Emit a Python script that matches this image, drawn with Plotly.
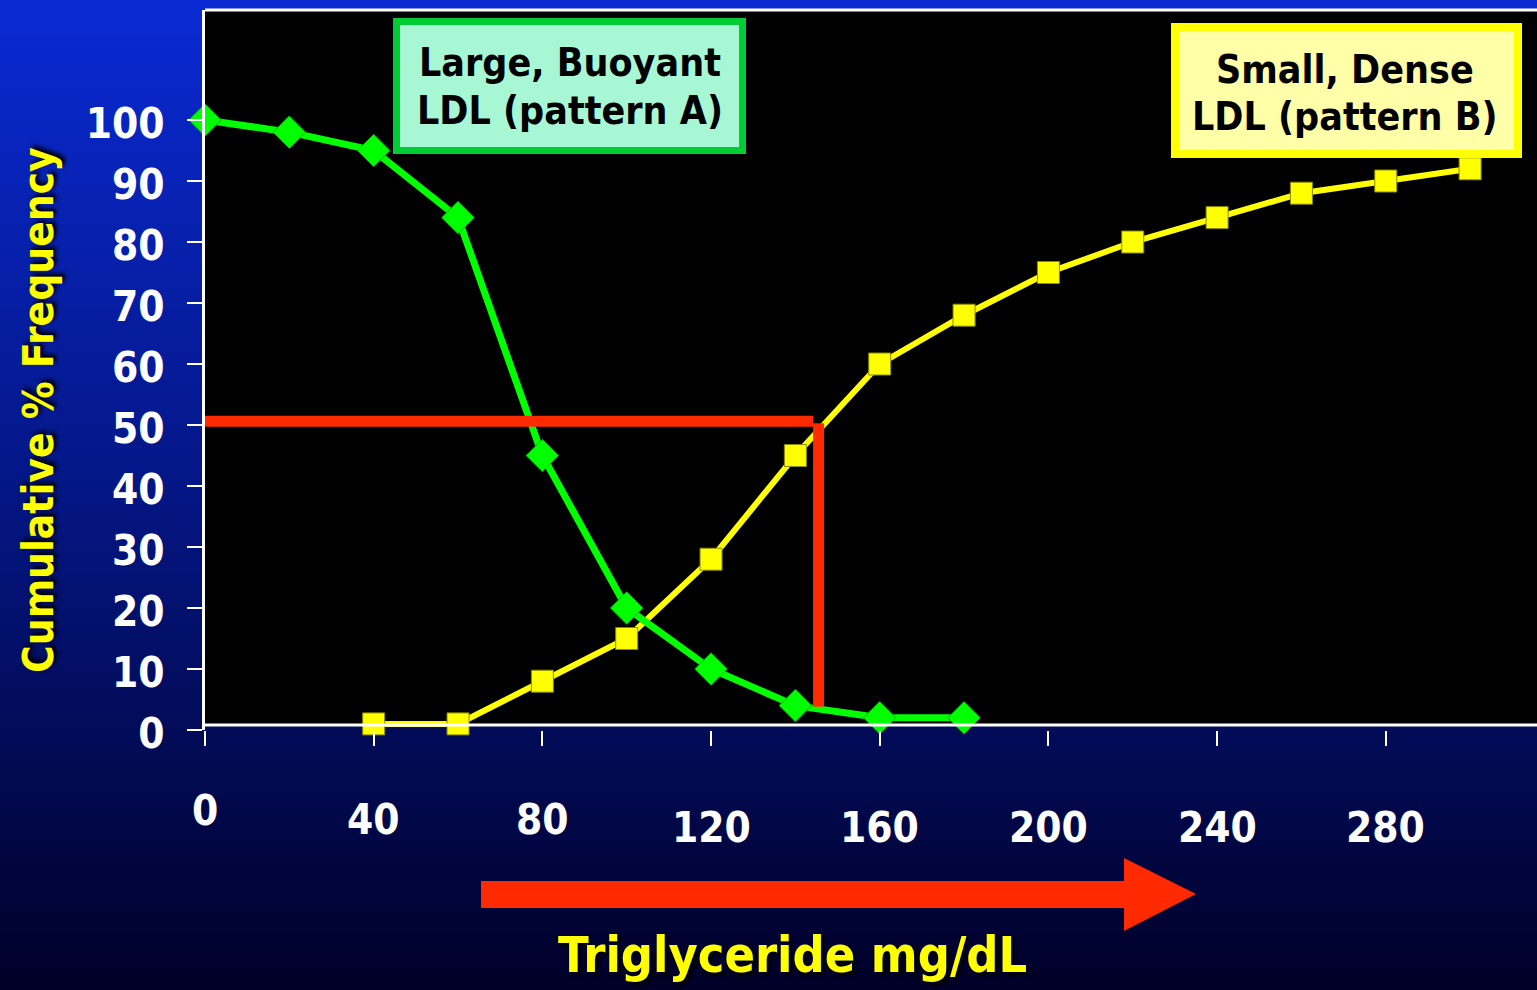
import plotly.graph_objects as go

# ---- data -------------------------------------------------------------
tg_pattern_a = [0, 20, 40, 60, 80, 100, 120, 140, 160, 180]
pct_pattern_a = [100, 98, 95, 84, 45, 20, 10, 4, 2, 2]

tg_pattern_b = [40, 60, 80, 100, 120, 140, 160, 180, 200, 220, 240, 260, 280, 300]
pct_pattern_b = [1, 1, 8, 15, 28, 45, 60, 68, 75, 80, 84, 88, 90, 92]

x_ticks = [0, 40, 80, 120, 160, 200, 240, 280]
x_tick_labels = ["0", "40", "80", "120", "160", "200", "240", "280"]
y_ticks = [0, 10, 20, 30, 40, 50, 60, 70, 80, 90, 100]
y_tick_labels = [str(v) for v in y_ticks]

cutoff_tg = 145.5
cutoff_pct = 50.6

# ---- geometry / style -------------------------------------------------
W, H = 1537, 990
L, T, B = 205, 10, 260
PW, PH = W - L, H - T - B
X_MAX = PW / 4.217
Y_MAX = PH / 6.1
AXIS_Y = 5 / 6.1          # baseline drawn a few px above the zero tick

FONT = "DejaVu Sans Condensed, DejaVu Sans, sans-serif"
RED = "#ff2a00"
GREEN = "#00ff00"
YELLOW = "#ffff00"

# x tick labels are staggered downwards
x_label_drop = [0, 9, 9, 17, 17, 17, 17, 17]


def fx(px):
    return (px - L) / PW


def fy(py):
    return (T + PH - py) / PH


def font(size, color, family=FONT, shadow="none"):
    return dict(family=family, size=size, color=color, weight="bold",
                shadow=shadow)


fig = go.Figure()

fig.add_trace(go.Scatter(
    x=tg_pattern_b, y=pct_pattern_b, mode="lines+markers",
    line=dict(color=YELLOW, width=6),
    marker=dict(symbol="square", size=22, color=YELLOW,
                line=dict(color="#8a8a00", width=1)),
    showlegend=False, cliponaxis=False,
))
fig.add_trace(go.Scatter(
    x=tg_pattern_a, y=pct_pattern_a, mode="lines+markers",
    line=dict(color=GREEN, width=7),
    marker=dict(symbol="diamond", size=25, color=GREEN,
                line=dict(color="#00b000", width=1)),
    showlegend=False, cliponaxis=False,
))

shapes = []

# background gradient (blue at top fading to deep navy)
stops = [(0.0, (10, 42, 212)), (0.5, (4, 22, 132)), (1.0, (0, 0, 40))]


def grad(t):
    for (t0, c0), (t1, c1) in zip(stops[:-1], stops[1:]):
        if t <= t1:
            u = (t - t0) / (t1 - t0)
            return "rgb(%d,%d,%d)" % tuple(round(a + (b - a) * u) for a, b in zip(c0, c1))
    return "rgb(%d,%d,%d)" % stops[-1][1]


step = 5
for y0 in range(0, H, step):
    shapes.append(dict(
        type="rect", xref="paper", yref="paper", layer="below",
        x0=fx(0), x1=fx(W), y0=fy(y0 - 1), y1=fy(y0 + step + 1),
        fillcolor=grad((y0 + step / 2) / H), line=dict(width=0),
    ))

# black plotting field
shapes.append(dict(
    type="rect", xref="x", yref="y", layer="below",
    x0=0, x1=X_MAX, y0=AXIS_Y, y1=Y_MAX,
    fillcolor="black", line=dict(width=0),
))
# frame lines
shapes.append(dict(type="line", xref="x", yref="y", x0=0, x1=X_MAX,
                   y0=AXIS_Y, y1=AXIS_Y, line=dict(color="white", width=3)))
shapes.append(dict(type="line", xref="paper", yref="paper", x0=0, x1=1,
                   y0=1, y1=1, line=dict(color="white", width=3)))

# 50 % cut-off guide
shapes.append(dict(type="line", xref="x", yref="y", x0=0, x1=cutoff_tg - 1.3,
                   y0=cutoff_pct, y1=cutoff_pct, line=dict(color=RED, width=11)))
shapes.append(dict(type="line", xref="x", yref="y", x0=cutoff_tg, x1=cutoff_tg,
                   y0=cutoff_pct - 0.3, y1=3.8, line=dict(color=RED, width=11)))

# red arrow under the axis
arrow_pts = [(481, 881), (1124, 881), (1124, 858), (1196, 894),
             (1124, 931), (1124, 908), (481, 908)]
path = "M " + " L ".join("%.5f,%.5f" % (fx(a), fy(b)) for a, b in arrow_pts) + " Z"
shapes.append(dict(type="path", xref="paper", yref="paper", path=path,
                   fillcolor=RED, line=dict(width=0)))

# label boxes
shapes.append(dict(type="rect", xref="paper", yref="paper",
                   x0=fx(396.5), x1=fx(742.5), y0=fy(150.5), y1=fy(21.5),
                   fillcolor="#a8f7d4", line=dict(color="#00cc33", width=7)))
shapes.append(dict(type="rect", xref="paper", yref="paper",
                   x0=fx(1175), x1=fx(1518), y0=fy(154), y1=fy(27),
                   fillcolor="#ffffa8", line=dict(color=YELLOW, width=8)))

annotations = []


def text(s, x, y, fnt, angle=0):
    annotations.append(dict(
        text=s, xref="paper", yref="paper", x=fx(x), y=fy(y),
        xanchor="center", yanchor="middle", showarrow=False, textangle=angle,
        font=fnt,
    ))


text("Large, Buoyant", 570, 63, font(39, "black"))
text("LDL (pattern A)", 570, 111, font(39, "black"))
text("Small, Dense", 1345, 69, font(39, "black"))
text("LDL (pattern B)", 1345, 116, font(39, "black"))

for v, lab, drop in zip(x_ticks, x_tick_labels, x_label_drop):
    annotations.append(dict(
        text=lab, xref="x", yref="paper", x=v, y=fy(810 + drop),
        xanchor="center", yanchor="middle", showarrow=False,
        font=font(42, "white"),
    ))

text("Triglyceride mg/dL", 792, 955, font(50, YELLOW, shadow="3px 3px 4px #000"))
text("Cumulative % Frequency", 38, 410,
     font(42, YELLOW, shadow="3px 3px 4px #000"), angle=-90)

fig.update_layout(
    width=W, height=H,
    margin=dict(l=L, r=0, t=T, b=B, pad=0),
    paper_bgcolor="#000028",
    plot_bgcolor="rgba(0,0,0,0)",
    shapes=shapes, annotations=annotations,
    xaxis=dict(range=[0, X_MAX], showgrid=False, zeroline=False,
               showline=False, tickvals=x_ticks, showticklabels=False,
               ticks="outside", ticklen=15, tickwidth=2, tickcolor="white"),
    yaxis=dict(range=[0, Y_MAX], showgrid=False, zeroline=False,
               showline=True, linecolor="white", linewidth=3,
               tickvals=y_ticks, ticktext=y_tick_labels,
               ticks="outside", ticklen=15, tickwidth=2, tickcolor="white",
               ticklabelstandoff=14, ticklabelshift=3,
               tickfont=font(42, "white")),
)

fig.write_html("out.html")
